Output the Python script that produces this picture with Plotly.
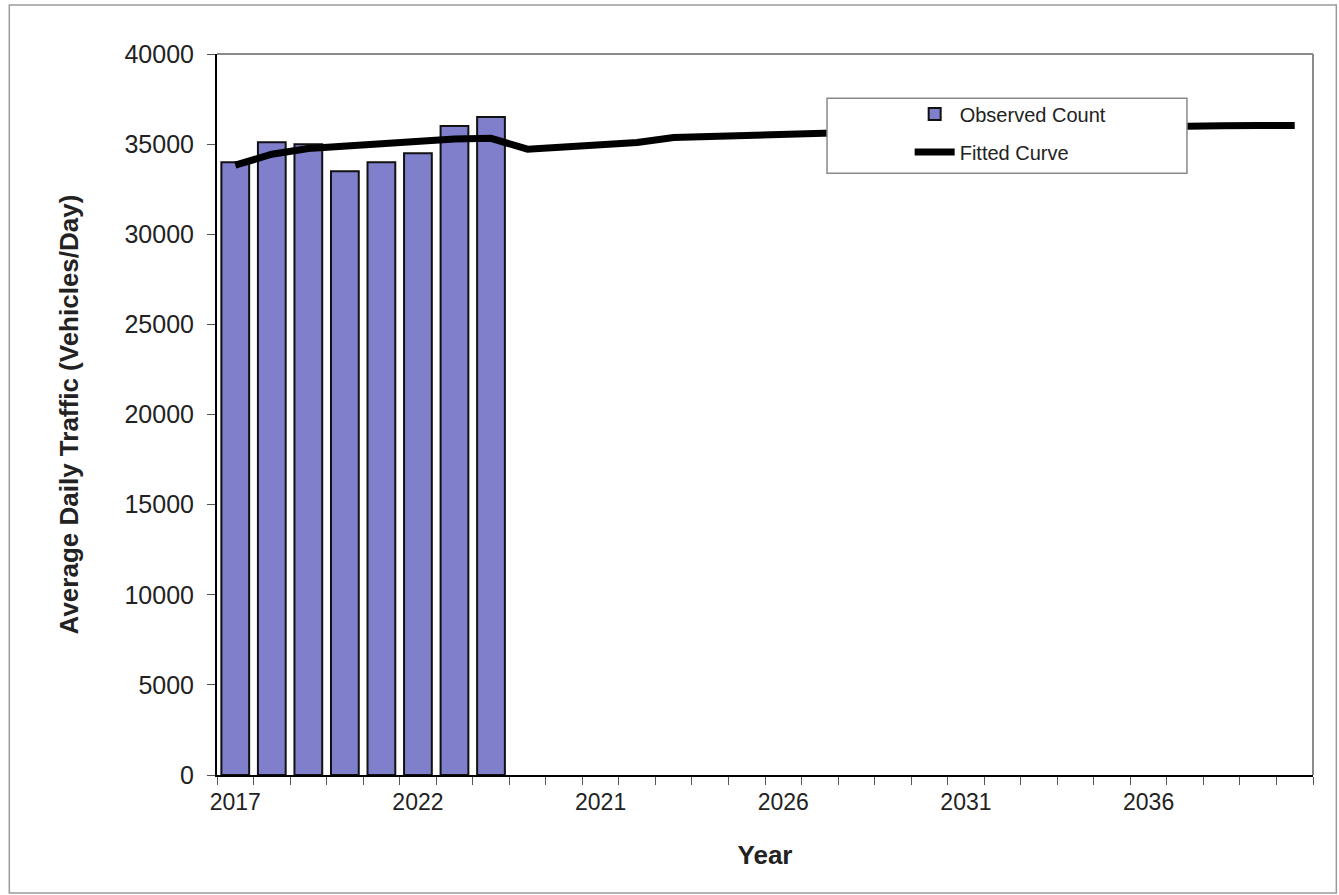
import plotly.graph_objects as go

# ---- data ----
observed_years = ["2017", "2018", "2019", "2020", "2021", "2022", "2023", "2024"]
forecast_years = [str(y) for y in range(2019, 2041)]
categories = observed_years + forecast_years  # 30 category slots as shown on the axis

observed_count = [34000, 35100, 35000, 33500, 34000, 34500, 36000, 36500]
fitted_curve = [33830, 34440, 34760, 34900, 35000, 35090, 35280, 35320,
                34720, 34840, 34970, 35090, 35370, 35440, 35510, 35580,
                35650, 35690, 35730, 35770, 35810, 35850, 35890, 35920,
                35950, 35980, 36000, 36020, 36030, 36040]

label_every = 5
y_ticks = [0, 5000, 10000, 15000, 20000, 25000, 30000, 35000, 40000]

# ---- figure ----
xpos = list(range(len(categories)))
font_family = "Arial, Liberation Sans, sans-serif"

fig = go.Figure()
fig.add_trace(go.Bar(
    x=xpos[:len(observed_count)], y=observed_count, name="Observed Count",
    marker=dict(color="#7f7fcc", line=dict(color="#111111", width=2)),
    width=0.76, legendgroup="a",
))
fig.add_trace(go.Scatter(
    x=xpos[:len(fitted_curve)], y=fitted_curve, name="Fitted Curve",
    mode="lines", line=dict(color="#000000", width=7), legendgroup="b",
))

tickvals = xpos[::label_every]
ticktext = categories[::label_every]

fig.update_layout(
    width=1339, height=895,
    margin=dict(l=217, r=26, t=54, b=120),
    paper_bgcolor="white", plot_bgcolor="white",
    font=dict(family=font_family, color="#222222"),
    showlegend=True,
    legend=dict(
        x=0.632, y=0.944, xanchor="left", yanchor="top",
        bgcolor="rgba(0,0,0,0)", borderwidth=0,
        font=dict(size=20, color="#222222"),
        traceorder="grouped", tracegroupgap=9, itemwidth=40,
    ),
)

fig.update_xaxes(
    range=[-0.5, len(categories) - 0.5],
    tickmode="array", tickvals=tickvals, ticktext=ticktext,
    ticks="", showgrid=False, zeroline=False,
    showline=True, linecolor="#000000", linewidth=2,
    tickfont=dict(size=23, color="#222222"), ticklabelstandoff=5,
    minor=dict(ticks="outside", tick0=-0.5, dtick=1, ticklen=8,
               tickcolor="#555555", tickwidth=1, showgrid=False),
    title=dict(text="<b>Year</b>", font=dict(size=26, color="#222222"), standoff=32),
)
fig.update_yaxes(
    range=[0, 40000], tickmode="array", tickvals=y_ticks, tickformat="d",
    ticks="outside", ticklen=8, tickcolor="#555555",
    showgrid=False, zeroline=False,
    showline=True, linecolor="#000000", linewidth=2,
    tickfont=dict(size=25, color="#222222"), ticklabelstandoff=8,
    title=dict(text="<b>Average Daily Traffic (Vehicles/Day)</b>",
               font=dict(size=26, color="#222222"), standoff=38),
)

# plot-area top / right border (gray)
fig.add_shape(type="line", xref="paper", yref="paper", x0=0, x1=1, y0=1, y1=1,
              line=dict(color="#8a8a8a", width=2))
fig.add_shape(type="line", xref="paper", yref="paper", x0=1, x1=1, y0=0, y1=1,
              line=dict(color="#8a8a8a", width=2))
# outer chart frame
fig.add_shape(type="rect", xref="paper", yref="paper",
              x0=-0.1895, x1=1.0213, y0=-0.1637, y1=1.068,
              line=dict(color="#9a9a9a", width=1.5), layer="below")
# legend box
fig.add_shape(type="rect", xref="paper", yref="paper",
              x0=0.5566, x1=0.885, y0=0.8345, y1=0.9386,
              fillcolor="white", line=dict(color="#8a8a8a", width=1.5), layer="above")

fig.write_html("out.html")
